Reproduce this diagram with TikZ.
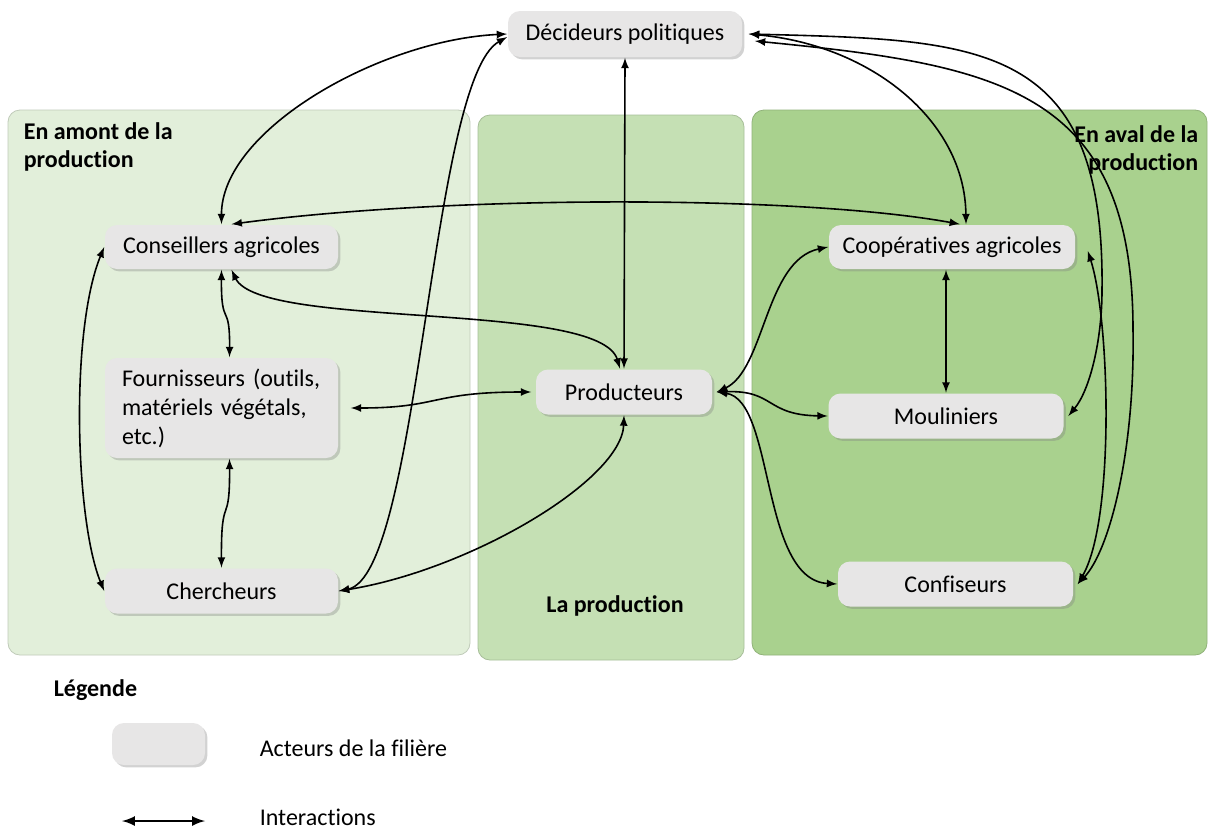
\documentclass[tikz,border=0pt]{standalone}
\usepackage{fontspec}
\setmainfont{Carlito}[Ligatures=NoCommon]
\usetikzlibrary{arrows,shadows}

\definecolor{amont}{HTML}{E2EFDA}
\definecolor{prodzone}{HTML}{C5E0B4}
\definecolor{aval}{HTML}{A9D18E}
\definecolor{actorgray}{HTML}{E7E6E6}

\begin{document}
\begin{tikzpicture}[thick, >= latex, x=0.5pt, y=-0.5pt,
	font=\fontsize{12}{14.5}\selectfont,
	zone/.style={rounded corners=6pt, fill=#1, draw=#1!85!black, line width=0.4pt},
	actor/.style={rounded corners=6pt, fill=actorgray, align=center, inner sep=0pt,
		minimum height=22.5pt, drop shadow={shadow xshift=1.2pt, shadow yshift=-1.2pt, opacity=0.35}},
	zonetitle/.style={font=\fontsize{12}{14}\selectfont\bfseries, inner sep=0pt},
	legtext/.style={inner sep=0pt, anchor=west}]

\useasboundingbox (0,0) rectangle (1208,830);
\fill[white] (0,0) rectangle (1208,830);

\path[zone=amont] (8,110) rectangle (470,655);
\path[zone=prodzone] (478,115) rectangle (744,660);
\path[zone=aval] (752,110) rectangle (1207,655);

\node[zonetitle, anchor=north west, align=left] (amonttitle) at (23,122) {En amont de la\\production};
\node[zonetitle, anchor=north east, align=right] (avaltitle) at (1199,125) {En aval de la\\production};
\node[zonetitle] (prodtitle) at (615,606) {La production};

\node[actor, minimum width=117pt, minimum height=23pt] (dec) at (625,34) {Décideurs politiques};
\node[actor, minimum width=116.5pt, minimum height=22pt] (cons) at (221.5,247) {Conseillers agricoles};
\node[actor, text width=99.5pt, align=left, inner xsep=8.5pt, minimum height=50pt] (four) at (221.5,408)
	{Fournisseurs (outils,\\matériels végétals,\\etc.)};
\node[actor, minimum width=116.5pt] (cher) at (221.5,591) {Chercheurs};
\node[actor, minimum width=88pt] (prod) at (624,392) {Producteurs};
\node[actor, minimum width=123pt, minimum height=22pt] (coop) at (952,247) {Coopératives agricoles};
\node[actor, minimum width=117.5pt] (moul) at (946,416) {Mouliniers};
\node[actor, minimum width=117.5pt] (conf) at (955.5,584) {Confiseurs};

\draw[<->] (dec.west) .. controls (380,40) and (221,130) .. (cons.north);
\draw[<->] ([yshift=-1.5pt]dec.west) .. controls (430,80) and (420,575) .. (cher.east);
\draw[<->] (dec.south) -- (prod.north);
\draw[<->] ([xshift=3pt]dec.east) .. controls (870,45) and (965,120) .. ([xshift=7pt]coop.north);
\draw[<->] ([xshift=3pt]dec.east) .. controls (980,40) and (1105,40) .. (1102,290)
	.. controls (1102,340) and (1090,390) .. ([xshift=2pt]moul.east);
\draw[<->] ([xshift=6pt,yshift=-3.5pt]dec.east) .. controls (1000,65) and (1133,90) .. (1133,330)
	.. controls (1135,450) and (1110,550) .. ([xshift=2pt]conf.east);
\draw[<->] ([xshift=6pt,yshift=-2pt]coop.east) .. controls (1110,320) and (1115,520) .. ([xshift=2pt]conf.east);
\draw[<->] ([xshift=5pt]cons.north) .. controls (450,195) and (800,195) .. ([xshift=4pt]coop.north);
\draw[<->] ([xshift=5pt]cons.south) .. controls (260,330) and (600,300) .. ([xshift=-2pt]prod.north);
\draw[<->] (cons.south) .. controls (221,330) and (230,300) .. ([xshift=4pt]four.north);
\draw[<->] ([xshift=4pt]four.south) .. controls (230,530) and (221,490) .. (cher.north);
\draw[<->] (cons.west) .. controls (70,330) and (75,520) .. (cher.west);
\draw[<->] ([xshift=6pt]four.east) .. controls (440,408) and (430,392) .. ([xshift=-2pt]prod.west);
\draw[<->] (cher.east) .. controls (470,570) and (622,480) .. (prod.south);
\draw[<->] ([xshift=2pt]prod.east) .. controls (765,370) and (765,260) .. (coop.west);
\draw[<->] ([xshift=2pt]prod.east) .. controls (775,390) and (765,415) .. (moul.west);
\draw[<->] ([xshift=2pt]prod.east) .. controls (775,400) and (760,580) .. (conf.west);
\draw[<->] ([xshift=-3pt]coop.south) -- (moul.north);

\node[zonetitle, anchor=west] (legtitle) at (53,690) {Légende};
\node[actor, minimum width=46.5pt, minimum height=21pt] (legbox) at (158.5,744) {};
\node[legtext] (legactor) at (259,748) {Acteurs de la filière};
\coordinate (legA) at (122,821);
\coordinate (legB) at (205,821);
\draw[<->, line width=1.2pt] (legA) -- (legB);
\node[legtext] (leginter) at (259,817) {Interactions};

\end{tikzpicture}
\end{document}
